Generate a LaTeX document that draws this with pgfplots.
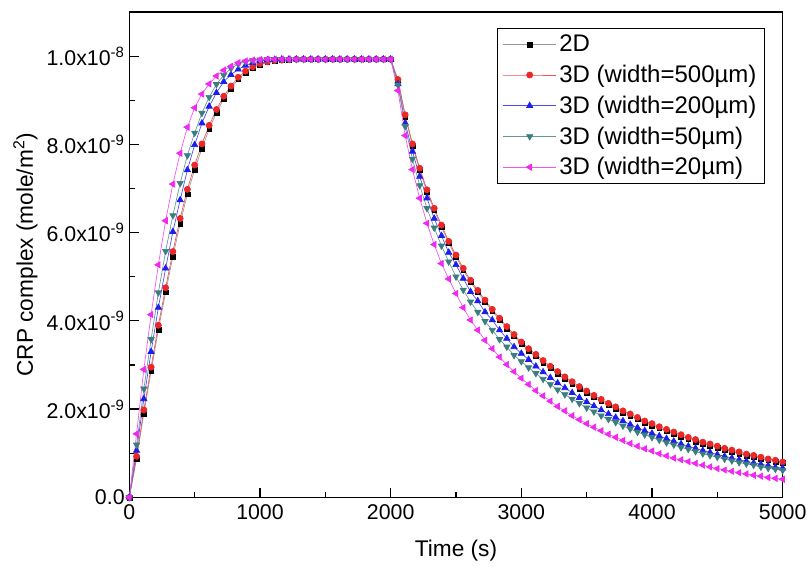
\documentclass[border=0pt]{standalone}
\usepackage{pgfplots}
\pgfplotsset{compat=1.18}
\usepackage{pgfplotstable}
\usepackage{fontspec}
\setmainfont{Liberation Sans}

\definecolor{cred}{RGB}{235,40,40}
\definecolor{cblue}{RGB}{30,30,235}
\definecolor{cteal}{RGB}{60,125,125}
\definecolor{cmag}{RGB}{240,40,240}

\pgfplotstableread{
t a b c d e
0 0 0 0 0 0
55.6 0.88 0.93 1.06 1.19 1.44
111.1 1.90 1.98 2.23 2.46 2.90
166.7 2.86 2.95 3.30 3.58 4.14
222.2 3.80 3.90 4.30 4.64 5.27
277.8 4.65 4.75 5.19 5.58 6.27
333.3 5.46 5.57 6.02 6.39 7.10
388.9 6.21 6.32 6.74 7.12 7.80
444.4 6.87 6.98 7.42 7.75 8.39
500 7.43 7.53 7.99 8.26 8.83
555.6 7.91 8.01 8.48 8.71 9.14
611.1 8.35 8.43 8.86 9.07 9.37
666.7 8.72 8.79 9.17 9.36 9.55
722.2 9.03 9.09 9.42 9.57 9.68
777.8 9.27 9.32 9.58 9.72 9.77
833.3 9.48 9.52 9.70 9.82 9.85
888.9 9.63 9.66 9.79 9.87 9.89
944.4 9.74 9.76 9.85 9.90 9.91
1000 9.81 9.83 9.89 9.92 9.92
1055.6 9.86 9.87 9.91 9.93 9.93
1111.1 9.89 9.90 9.92 9.93 9.93
1166.7 9.91 9.91 9.93 9.93 9.93
1222.2 9.92 9.92 9.93 9.93 9.93
1277.8 9.93 9.93 9.93 9.93 9.93
1333.3 9.93 9.93 9.93 9.93 9.93
1388.9 9.93 9.93 9.93 9.93 9.93
1444.4 9.93 9.93 9.93 9.93 9.93
1500 9.93 9.93 9.93 9.93 9.93
1555.6 9.93 9.93 9.93 9.93 9.93
1611.1 9.93 9.93 9.93 9.93 9.93
1666.7 9.93 9.93 9.93 9.93 9.93
1722.2 9.93 9.93 9.93 9.93 9.93
1777.8 9.93 9.93 9.93 9.93 9.93
1833.3 9.93 9.93 9.93 9.93 9.93
1888.9 9.93 9.93 9.93 9.93 9.93
1944.4 9.93 9.93 9.93 9.93 9.93
2000 9.93 9.93 9.93 9.93 9.93
2055.6 9.43 9.47 9.37 9.35 9.22
2111.1 8.63 8.67 8.48 8.41 8.20
2166.7 7.97 8.01 7.84 7.67 7.43
2222.2 7.42 7.46 7.27 7.07 6.78
2277.8 6.93 6.97 6.78 6.55 6.21
2333.3 6.51 6.55 6.32 6.11 5.73
2388.9 6.13 6.17 5.93 5.70 5.30
2444.4 5.76 5.80 5.55 5.34 4.95
2500 5.45 5.49 5.27 5.00 4.62
2555.6 5.15 5.19 4.96 4.70 4.30
2611.1 4.88 4.92 4.66 4.43 4.02
2666.7 4.65 4.69 4.45 4.20 3.79
2722.2 4.43 4.47 4.20 3.99 3.56
2777.8 4.22 4.26 4.02 3.79 3.37
2833.3 4.02 4.06 3.79 3.58 3.18
2888.9 3.83 3.87 3.60 3.41 3.01
2944.4 3.65 3.69 3.41 3.22 2.85
3000 3.48 3.52 3.26 3.08 2.70
3055.6 3.33 3.37 3.12 2.94 2.56
3111.1 3.20 3.24 2.97 2.81 2.42
3166.7 3.06 3.10 2.84 2.68 2.30
3222.2 2.93 2.97 2.71 2.56 2.18
3277.8 2.81 2.85 2.59 2.44 2.06
3333.3 2.69 2.73 2.48 2.33 1.96
3388.9 2.58 2.62 2.37 2.23 1.85
3444.4 2.47 2.51 2.26 2.13 1.76
3500 2.37 2.41 2.16 2.03 1.67
3555.6 2.27 2.31 2.07 1.94 1.59
3611.1 2.18 2.22 1.98 1.85 1.51
3666.7 2.09 2.13 1.89 1.77 1.43
3722.2 2.01 2.05 1.81 1.70 1.36
3777.8 1.92 1.96 1.73 1.62 1.29
3833.3 1.85 1.89 1.65 1.55 1.22
3888.9 1.77 1.81 1.58 1.48 1.16
3944.4 1.70 1.73 1.51 1.42 1.10
4000 1.63 1.67 1.45 1.36 1.05
4055.6 1.57 1.60 1.39 1.30 0.99
4111.1 1.50 1.54 1.33 1.24 0.94
4166.7 1.44 1.48 1.27 1.19 0.89
4222.2 1.38 1.42 1.21 1.13 0.85
4277.8 1.33 1.36 1.16 1.09 0.81
4333.3 1.27 1.31 1.11 1.04 0.77
4388.9 1.22 1.25 1.06 0.99 0.73
4444.4 1.17 1.21 1.02 0.95 0.69
4500 1.13 1.16 0.97 0.91 0.65
4555.6 1.08 1.11 0.93 0.87 0.62
4611.1 1.04 1.07 0.89 0.83 0.59
4666.7 0.99 1.03 0.85 0.79 0.56
4722.2 0.95 0.98 0.82 0.76 0.53
4777.8 0.92 0.95 0.78 0.73 0.50
4833.3 0.88 0.91 0.75 0.69 0.48
4888.9 0.84 0.87 0.72 0.66 0.45
4944.4 0.81 0.84 0.68 0.64 0.43
5000 0.78 0.80 0.66 0.61 0.41
}\data

\begin{document}
\begin{tikzpicture}
\useasboundingbox (-97pt,-51pt) rectangle (509pt,373pt);
\begin{axis}[
  scale only axis, width=490pt, height=364pt,
  xmin=0, xmax=5000, ymin=0, ymax=11,
  xtick={0,1000,2000,3000,4000,5000},
  xticklabels={0,1000,2000,3000,4000,5000},
  scaled x ticks=false,
  minor x tick num=1,
  ytick={0,2,4,6,8,10},
  yticklabels={0.0,2.0x10\textsuperscript{-9},4.0x10\textsuperscript{-9},6.0x10\textsuperscript{-9},8.0x10\textsuperscript{-9},1.0x10\textsuperscript{-8}},
  minor y tick num=1,
  tick align=inside, xtick pos=bottom, ytick pos=left,
  major tick length=7pt, minor tick length=4pt,
  every tick/.style={black, line width=0.9pt},
  axis line style={line width=0.9pt},
  ticklabel style={font=\fontsize{16}{19}\selectfont},
  xticklabel style={yshift=-2pt},
  xlabel={Time (s)}, ylabel={CRP complex (mole/m\textsuperscript{2})},
  label style={font=\fontsize{17}{20}\selectfont},
  xlabel style={yshift=-8pt},
  legend cell align=left,
  legend style={at={(0.973,0.967)}, anchor=north east, draw=black, line width=0.8pt,
    font=\fontsize{18}{22}\selectfont, row sep=4.5pt, inner xsep=4pt, inner ysep=3pt},
  legend image code/.code={\draw[mark repeat=2,mark phase=2] plot coordinates {(0cm,0cm)(0.7cm,0cm)(1.4cm,0cm)};},
]
\addplot[gray!80, line width=0.5pt, mark=square*, mark size=1.8pt, mark options={black, fill=black, draw=black, line width=0.3pt}] table[x=t,y=a]{\data};
\addlegendentry{2D}
\addplot[cred!80, line width=0.5pt, mark=*, mark size=2.3pt, mark options={cred, fill=cred}] table[x=t,y=b]{\data};
\addlegendentry{3D (width=500µm)}
\addplot[cblue!80, line width=0.5pt, mark=triangle*, mark size=2.7pt, mark options={cblue, fill=cblue}] table[x=t,y=c]{\data};
\addlegendentry{3D (width=200µm)}
\addplot[cteal!80, line width=0.5pt, mark=triangle*, mark size=2.7pt, mark options={cteal, fill=cteal, rotate=180}] table[x=t,y=d]{\data};
\addlegendentry{3D (width=50µm)}
\addplot[cmag!80, line width=0.5pt, mark=triangle*, mark size=2.7pt, mark options={cmag, fill=cmag, rotate=90}] table[x=t,y=e]{\data};
\addlegendentry{3D (width=20µm)}
\end{axis}
\end{tikzpicture}
\end{document}
